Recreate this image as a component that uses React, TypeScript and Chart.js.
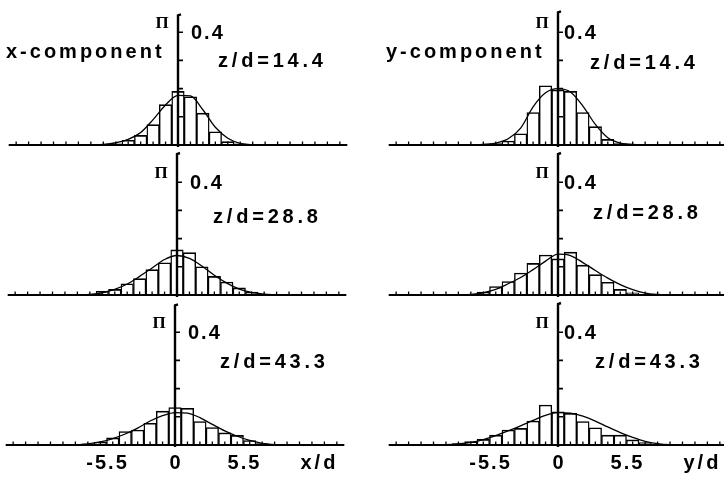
import { useEffect, useRef } from "react";
import { Chart, registerables } from "chart.js";

Chart.register(...registerables);

// ---- Histogram data: bin centres in d (bin width 1 d), probability Π per bin ----

// x-component
const xBins144 = [-5, -4, -3, -2, -1, 0, 1, 2, 3, 4, 5];
const xFreq144 = [0.004, 0.017, 0.034, 0.072, 0.143, 0.19, 0.171, 0.113, 0.047, 0.012, 0.004];
const xBins288 = [-6, -5, -4, -3, -2, -1, 0, 1, 2, 3, 4, 5, 6];
const xFreq288 = [0.013, 0.02, 0.04, 0.058, 0.09, 0.114, 0.16, 0.15, 0.1, 0.066, 0.046, 0.025, 0.01];
const xBins433 = [-7, -6, -5, -4, -3, -2, -1, 0, 1, 2, 3, 4, 5, 6, 7];
const xFreq433 = [0.004, 0.01, 0.025, 0.048, 0.053, 0.077, 0.12, 0.133, 0.13, 0.083, 0.062, 0.043, 0.034, 0.016, 0.005];

// y-component
const yBins144 = [-5, -4, -3, -2, -1, 0, 1, 2, 3, 4, 5];
const yFreq144 = [0.005, 0.014, 0.04, 0.115, 0.21, 0.195, 0.19, 0.115, 0.065, 0.02, 0.005];
const yBins288 = [-6, -5, -4, -3, -2, -1, 0, 1, 2, 3, 4, 5, 6];
const yFreq288 = [0.01, 0.03, 0.048, 0.078, 0.112, 0.142, 0.128, 0.152, 0.106, 0.072, 0.045, 0.02, 0.008];
const yBins433 = [-8, -7, -6, -5, -4, -3, -2, -1, 0, 1, 2, 3, 4, 5, 6, 7];
const yFreq433 = [0.005, 0.012, 0.02, 0.035, 0.053, 0.059, 0.085, 0.142, 0.118, 0.112, 0.083, 0.061, 0.035, 0.035, 0.018, 0.009];

// ---- Fitted curves, sampled at whole d ----
const xCurve144X = [-7, -6, -5, -4, -3, -2, -1, 0, 1, 2, 3, 4, 5, 6, 7];
const xCurve144Y = [0, 0.002, 0.008, 0.02, 0.044, 0.09, 0.142, 0.176, 0.174, 0.125, 0.063, 0.024, 0.006, 0.001, 0];
const xCurve288X = [-8, -7, -6, -5, -4, -3, -2, -1, 0, 1, 2, 3, 4, 5, 6, 7, 8];
const xCurve288Y = [0, 0.002, 0.008, 0.02, 0.039, 0.066, 0.096, 0.126, 0.14, 0.13, 0.103, 0.07, 0.042, 0.021, 0.009, 0.003, 0];
const xCurve433X = [-9, -8, -7, -6, -5, -4, -3, -2, -1, 0, 1, 2, 3, 4, 5, 6, 7, 8, 9];
const xCurve433Y = [0, 0.001, 0.004, 0.011, 0.023, 0.039, 0.06, 0.085, 0.104, 0.115, 0.113, 0.097, 0.073, 0.05, 0.031, 0.016, 0.006, 0.001, 0];

const yCurve144X = [-7, -6, -5, -4, -3, -2, -1, 0, 1, 2, 3, 4, 5, 6, 7];
const yCurve144Y = [0, 0.002, 0.007, 0.022, 0.06, 0.135, 0.185, 0.2, 0.188, 0.138, 0.073, 0.026, 0.007, 0.002, 0];
const yCurve288X = [-8, -7, -6, -5, -4, -3, -2, -1, 0, 1, 2, 3, 4, 5, 6, 7, 8, 9];
const yCurve288Y = [0, 0.002, 0.008, 0.02, 0.04, 0.062, 0.09, 0.12, 0.145, 0.14, 0.115, 0.087, 0.06, 0.037, 0.019, 0.007, 0.002, 0];
const yCurve433X = [-10, -9, -8, -7, -6, -5, -4, -3, -2, -1, 0, 1, 2, 3, 4, 5, 6, 7, 8, 9, 10];
const yCurve433Y = [0, 0.001, 0.004, 0.009, 0.019, 0.033, 0.05, 0.068, 0.087, 0.105, 0.115, 0.113, 0.102, 0.085, 0.064, 0.044, 0.027, 0.013, 0.005, 0.001, 0];

// Axis annotation values
const piTicks = [0.1, 0.2, 0.3, 0.4];
const piLabelValue = 0.4;
const xTickLabels = ["-5.5", "0", "5.5"];
const xTickValues = [-5.5, 0, 5.5];

// ---- Panel geometry ----
const CANVAS_W = 360;
const CANVAS_H = 178;
const ZERO_X = 176; // canvas px of x = 0
const BASE_Y = 145; // canvas px of Π = 0
const PX_PER_D = 12.45;
const PX_PER_PI = 282;
const BIN_WIDTH_D = 1;

const X_MIN = -ZERO_X / PX_PER_D;
const X_MAX = (CANVAS_W - ZERO_X) / PX_PER_D;
const Y_MAX = BASE_Y / PX_PER_PI;
const Y_MIN = -(CANVAS_H - BASE_Y) / PX_PER_PI;

const AXIS_LEFT = -13.6;
const AXIS_RIGHT = 13.6;

const SANS = "'Liberation Sans', Arial, sans-serif";
const SERIF = "'Liberation Serif', 'DejaVu Serif', serif";

type PanelDef = {
  id: string;
  left: number;
  top: number;
  bins: number[];
  freq: number[];
  cx: number[];
  cy: number[];
  zLabel: string;
  zDx: number;
  zDy: number;
  side: "left" | "right";
  axisTop: number;
  component?: string;
  axisName?: string;
};

const panels: PanelDef[] = [
  { id: "x144", left: 2, top: 0, bins: xBins144, freq: xFreq144, cx: xCurve144X, cy: xCurve144Y, zLabel: "z/d=14.4", zDx: 40, zDy: -84, side: "left", axisTop: 0.46, component: "x-component" },
  { id: "x288", left: 1, top: 150, bins: xBins288, freq: xFreq288, cx: xCurve288X, cy: xCurve288Y, zLabel: "z/d=28.8", zDx: 36, zDy: -78, side: "left", axisTop: 0.5 },
  { id: "x433", left: -1, top: 300, bins: xBins433, freq: xFreq433, cx: xCurve433X, cy: xCurve433Y, zLabel: "z/d=43.3", zDx: 45, zDy: -83, side: "left", axisTop: 0.495, axisName: "x/d" },
  { id: "y144", left: 382, top: 0, bins: yBins144, freq: yFreq144, cx: yCurve144X, cy: yCurve144Y, zLabel: "z/d=14.4", zDx: 32, zDy: -82, side: "right", axisTop: 0.47, component: "y-component" },
  { id: "y288", left: 382, top: 150, bins: yBins288, freq: yFreq288, cx: yCurve288X, cy: yCurve288Y, zLabel: "z/d=28.8", zDx: 35, zDy: -82, side: "right", axisTop: 0.5 },
  { id: "y433", left: 382, top: 300, bins: yBins433, freq: yFreq433, cx: yCurve433X, cy: yCurve433Y, zLabel: "z/d=43.3", zDx: 37, zDy: -83, side: "right", axisTop: 0.5, axisName: "y/d" },
];

function drawText(ctx: CanvasRenderingContext2D, text: string, x: number, y: number, font: string, align: CanvasTextAlign, spacing: number) {
  ctx.save();
  ctx.font = font;
  (ctx as any).letterSpacing = spacing + "px";
  ctx.textAlign = align;
  ctx.textBaseline = "middle";
  ctx.fillStyle = "#000";
  ctx.fillText(text, x, y);
  ctx.restore();
}

function axesPlugin(p: PanelDef) {
  return {
    id: "panelAxes_" + p.id,
    afterDatasetsDraw(chart: any) {
      const ctx: CanvasRenderingContext2D = chart.ctx;
      const xs = chart.scales.x;
      const ys = chart.scales.y;
      const x0 = xs.getPixelForValue(0);
      const y0 = ys.getPixelForValue(0);
      ctx.save();
      ctx.strokeStyle = "#000";
      ctx.lineCap = "butt";

      // horizontal axis with small ticks at every d
      ctx.lineWidth = 1.9;
      ctx.beginPath();
      ctx.moveTo(xs.getPixelForValue(AXIS_LEFT), y0);
      ctx.lineTo(xs.getPixelForValue(AXIS_RIGHT), y0);
      ctx.stroke();
      ctx.lineWidth = 1.3;
      ctx.beginPath();
      for (let v = Math.ceil(AXIS_LEFT); v <= AXIS_RIGHT; v++) {
        const px = xs.getPixelForValue(v);
        ctx.moveTo(px, y0);
        ctx.lineTo(px, y0 - 3.5);
      }
      ctx.stroke();

      // vertical Π axis through x = 0
      const yTop = ys.getPixelForValue(p.axisTop);
      ctx.lineWidth = 2.4;
      ctx.beginPath();
      ctx.moveTo(x0, y0 + 2);
      ctx.lineTo(x0, yTop);
      ctx.lineTo(x0 + 3, yTop - 1);
      ctx.stroke();
      ctx.lineWidth = 1.6;
      ctx.beginPath();
      for (const t of piTicks) {
        const py = ys.getPixelForValue(t);
        ctx.moveTo(x0, py);
        ctx.lineTo(x0 + 5, py);
      }
      ctx.stroke();
      ctx.restore();

      // labels
      drawText(ctx, "Π", x0 - 16, ys.getPixelForValue(0.43), `bold 17px ${SERIF}`, "center", 0);
      drawText(ctx, "0.4", x0 + (p.side === "left" ? 13 : 6), ys.getPixelForValue(piLabelValue) + 1, `bold 20px ${SANS}`, "left", 2);
      drawText(ctx, p.zLabel, x0 + p.zDx, y0 + p.zDy, `bold 20px ${SANS}`, "left", 3.8);
      if (p.component) {
        drawText(ctx, p.component, x0 - 172, y0 - 93, `bold 20px ${SANS}`, "left", 3);
      }
      if (p.axisName) {
        xTickValues.forEach((v, i) => {
          drawText(ctx, xTickLabels[i], xs.getPixelForValue(v) + 1, y0 + 18, `bold 20px ${SANS}`, "center", 2);
        });
        drawText(ctx, p.axisName, xs.getPixelForValue(11.6), y0 + 18, `bold 20px ${SANS}`, "center", 3);
      }
    },
  };
}

function Panel({ p }: { p: PanelDef }) {
  const ref = useRef<HTMLCanvasElement>(null);
  useEffect(() => {
    if (!ref.current) return;
    const chart = new Chart(ref.current, {
      type: "bar",
      data: {
        datasets: [
          {
            type: "line",
            data: p.cx.map((x, i) => ({ x, y: p.cy[i] })),
            borderColor: "#000",
            borderWidth: 1.3,
            pointRadius: 0,
            fill: false,
            cubicInterpolationMode: "monotone",
            order: 0,
          } as any,
          {
            type: "bar",
            data: p.bins.map((x, i) => ({ x, y: p.freq[i] })),
            backgroundColor: "#fff",
            borderColor: "#000",
            borderWidth: { left: 1.4, right: 1.4, top: 1.6, bottom: 0 },
            borderSkipped: "bottom",
            barThickness: BIN_WIDTH_D * PX_PER_D,
            order: 1,
          } as any,
        ],
      },
      options: {
        animation: false,
        responsive: false,
        devicePixelRatio: 1,
        events: [],
        layout: { padding: 0 },
        plugins: { legend: { display: false }, tooltip: { enabled: false } },
        scales: {
          x: { type: "linear", min: X_MIN, max: X_MAX, offset: false, display: false, grid: { offset: false } },
          y: { type: "linear", min: Y_MIN, max: Y_MAX, display: false },
        },
      },
      plugins: [axesPlugin(p)],
    });
    return () => chart.destroy();
  }, [p]);
  return (
    <canvas
      ref={ref}
      width={CANVAS_W}
      height={CANVAS_H}
      style={{ position: "absolute", left: p.left, top: p.top, width: CANVAS_W, height: CANVAS_H }}
    />
  );
}

export default function App() {
  return (
    <div style={{ position: "fixed", left: 0, top: 0, width: 724, height: 478, background: "#fff", overflow: "hidden" }}>
      {panels.map((p) => (
        <Panel key={p.id} p={p} />
      ))}
    </div>
  );
}
